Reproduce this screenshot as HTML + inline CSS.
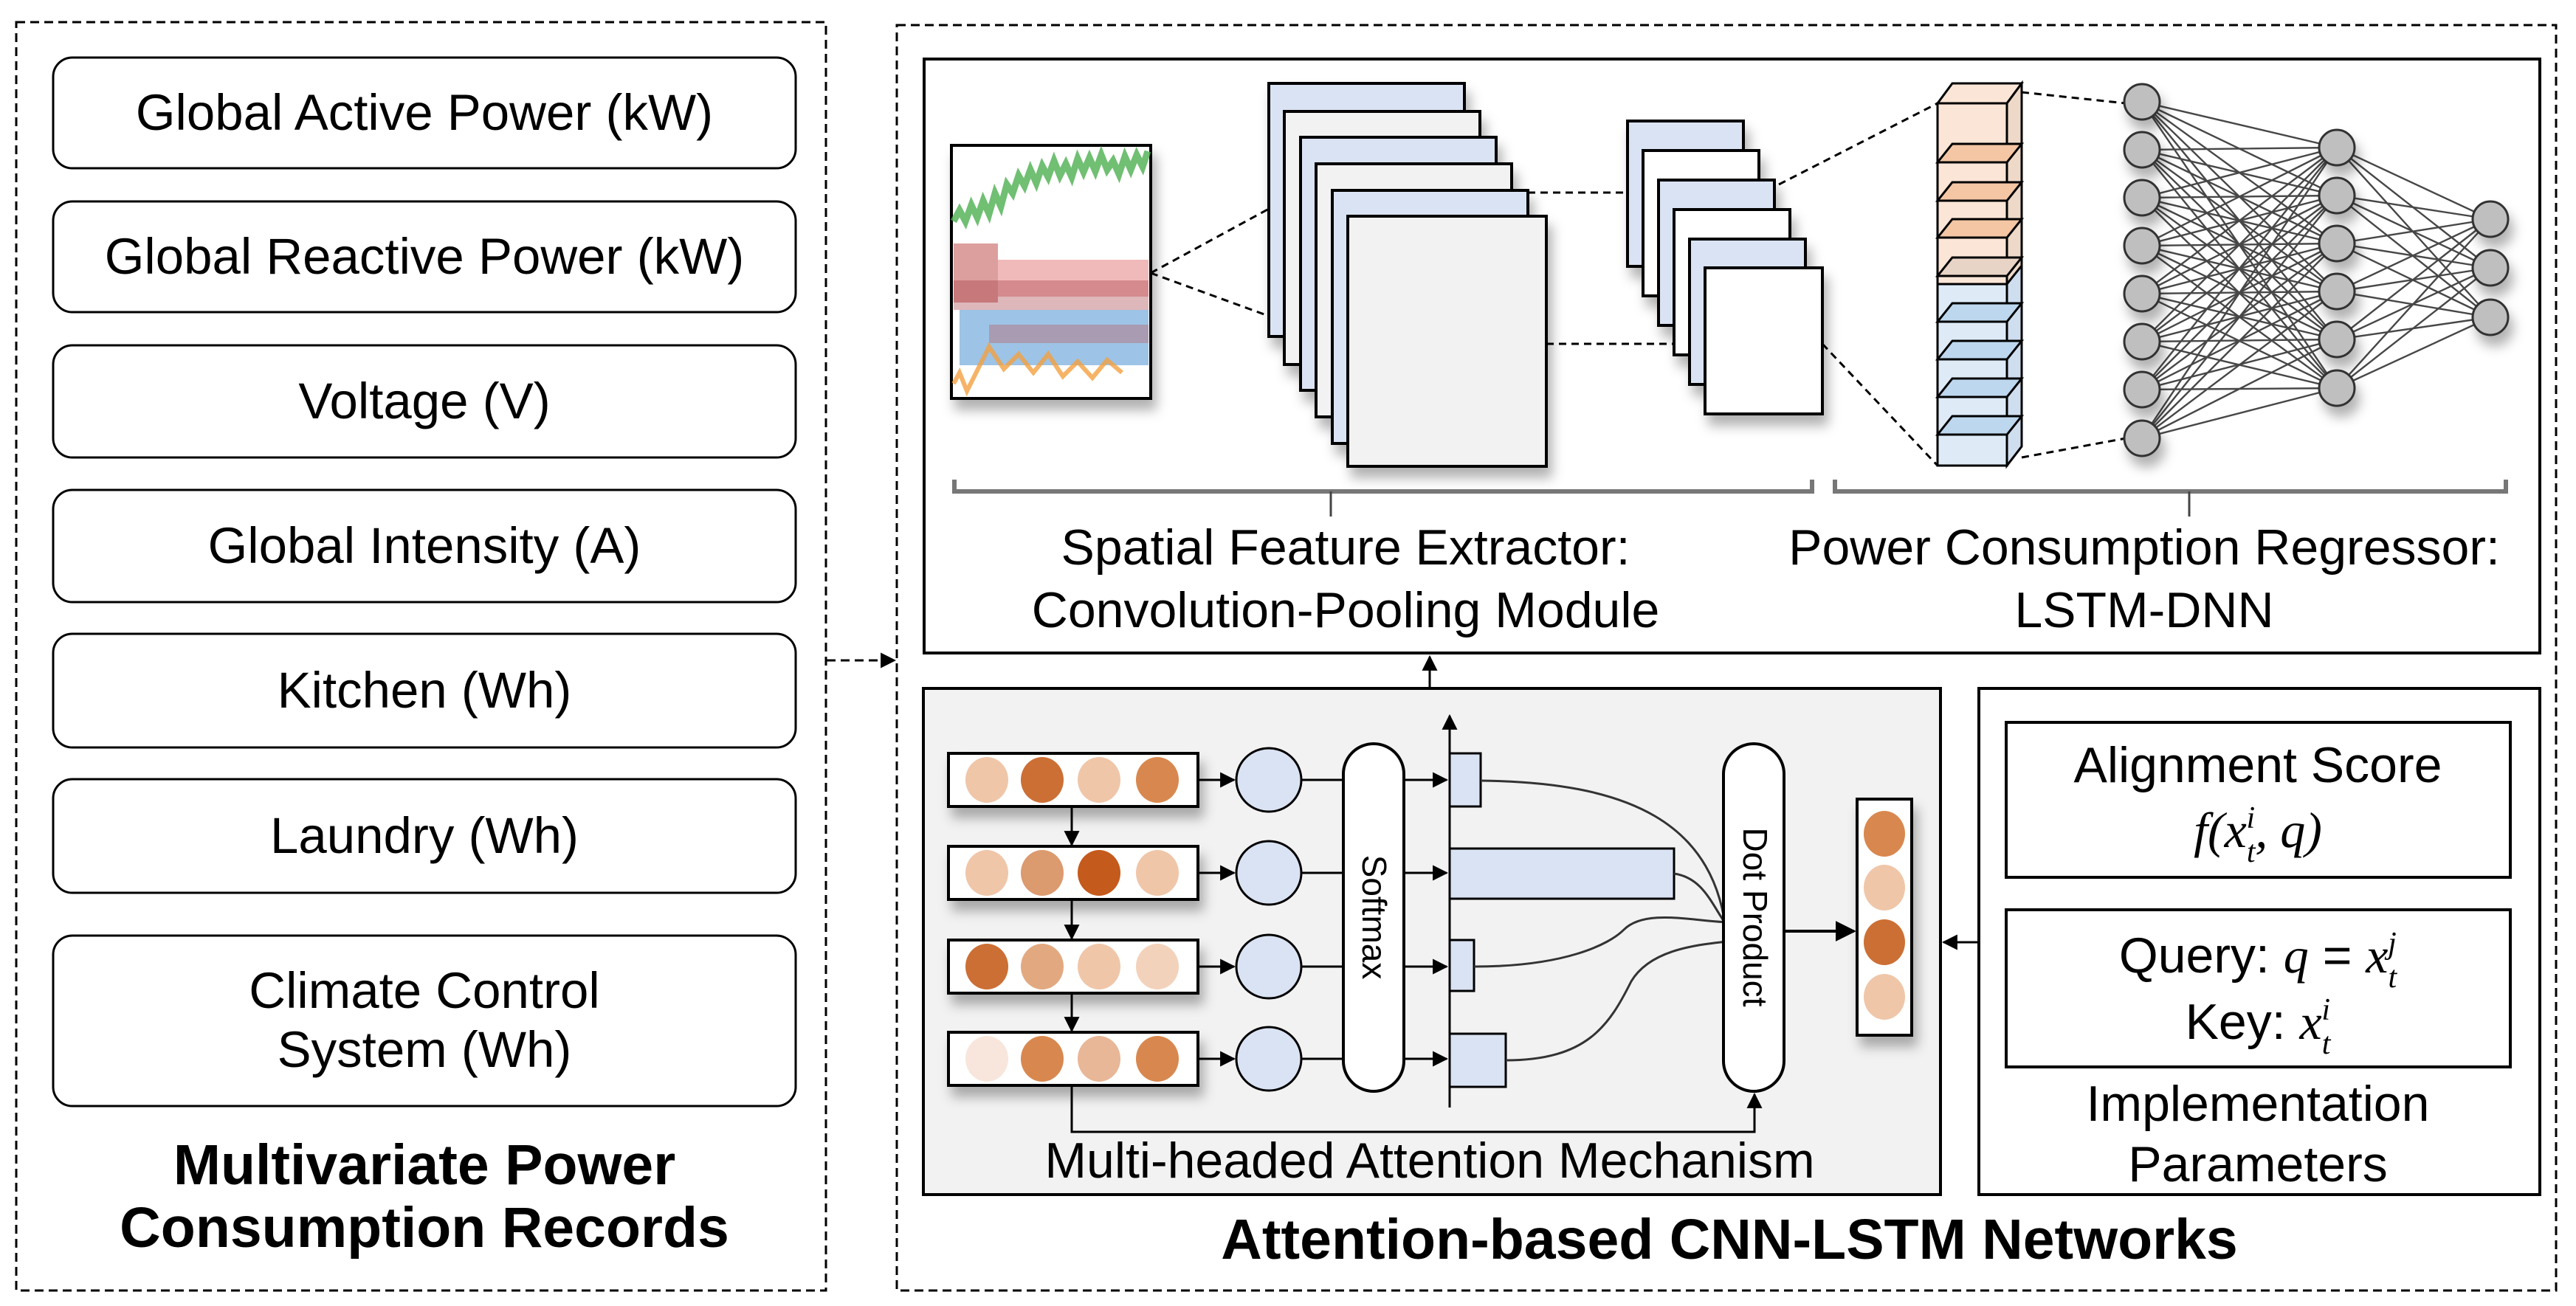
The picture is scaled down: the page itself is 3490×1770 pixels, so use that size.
<!DOCTYPE html>
<html><head><meta charset="utf-8"><style>
html,body{margin:0;padding:0;background:#fff;}
svg{display:block;font-family:"Liberation Sans",Arial,sans-serif;}
</style></head><body>
<svg width="3490" height="1770" viewBox="0 0 3490 1770" xmlns="http://www.w3.org/2000/svg">
<defs>
<marker id="ah" viewBox="0 0 10 10" refX="9" refY="5" markerWidth="7" markerHeight="7" orient="auto-start-reverse"><path d="M0,0 L10,5 L0,10 z" fill="#000"/></marker>
<filter id="sh" x="-20%" y="-20%" width="150%" height="150%"><feDropShadow dx="6" dy="14" stdDeviation="8" flood-color="#000" flood-opacity="0.3"/></filter>
</defs>

<rect x="22" y="30" width="1097" height="1719" fill="none" stroke="#000" stroke-width="3" stroke-dasharray="12,7"/>
<rect x="1215" y="34" width="2248" height="1715" fill="none" stroke="#000" stroke-width="3" stroke-dasharray="12,7"/>

<g fill="#fff" stroke="#000" stroke-width="3">
<rect x="72" y="78" width="1006" height="150" rx="26"/>
<rect x="72" y="273" width="1006" height="150" rx="26"/>
<rect x="72" y="468" width="1006" height="152" rx="26"/>
<rect x="72" y="664" width="1006" height="152" rx="26"/>
<rect x="72" y="859" width="1006" height="154" rx="26"/>
<rect x="72" y="1056" width="1006" height="154" rx="26"/>
<rect x="72" y="1268" width="1006" height="231" rx="26"/>
</g>
<g font-size="69" text-anchor="middle" fill="#000">
<text x="575" y="176">Global Active Power (kW)</text>
<text x="575" y="371">Global Reactive Power (kW)</text>
<text x="575" y="567">Voltage (V)</text>
<text x="575" y="763">Global Intensity (A)</text>
<text x="575" y="959">Kitchen (Wh)</text>
<text x="575" y="1156">Laundry (Wh)</text>
<text x="575" y="1366">Climate Control</text>
<text x="575" y="1446">System (Wh)</text>
</g>
<g font-size="77" font-weight="bold" text-anchor="middle">
<text x="575" y="1605">Multivariate Power</text>
<text x="575" y="1690">Consumption Records</text>
</g>

<line x1="1120" y1="895" x2="1212" y2="895" stroke="#000" stroke-width="3" stroke-dasharray="12,7" marker-end="url(#ah)"/>

<rect x="1252" y="80" width="2189" height="805" fill="#fff" stroke="#000" stroke-width="4"/>

<g filter="url(#sh)"><rect x="1289" y="197" width="270" height="343" fill="#fff" stroke="#000" stroke-width="4"/></g>
<g>
<polyline points="1292,300 1300,285 1308,300 1316,278 1324,295 1332,272 1340,290 1348,262 1356,280 1364,250 1372,262 1380,238 1388,252 1396,230 1404,248 1412,225 1420,240 1428,218 1436,238 1444,222 1452,240 1460,215 1468,233 1476,214 1484,232 1492,210 1500,230 1508,218 1516,236 1524,212 1532,230 1540,210 1548,226 1555,205" fill="none" stroke="#4caf50" stroke-width="9" opacity="0.8"/>
<rect x="1292" y="330" width="60" height="80" fill="#c0504d" opacity="0.55"/>
<rect x="1352" y="352" width="204" height="50" fill="#e06666" opacity="0.45"/>
<rect x="1292" y="380" width="264" height="40" fill="#a0303a" opacity="0.35"/>
<rect x="1300" y="420" width="256" height="75" fill="#5b9bd5" opacity="0.6"/>
<rect x="1340" y="440" width="216" height="25" fill="#c0504d" opacity="0.35"/>
<polyline points="1292,520 1300,505 1310,530 1340,470 1360,500 1380,480 1400,505 1420,480 1440,510 1460,490 1480,512 1500,488 1520,505" fill="none" stroke="#f4a040" stroke-width="6" opacity="0.8"/>
</g>

<g stroke="#000" stroke-width="3" stroke-dasharray="10,7" fill="none">
<line x1="1559" y1="370" x2="1719" y2="283"/>
<line x1="1559" y1="370" x2="1806" y2="460"/>
</g>

<g stroke="#000" stroke-width="4" filter="url(#sh)">
<rect x="1719" y="113" width="265" height="343" fill="#dae3f3"/>
<rect x="1740" y="151" width="265" height="343" fill="#f2f2f2"/>
<rect x="1762" y="186" width="265" height="343" fill="#dae3f3"/>
<rect x="1783" y="222" width="265" height="343" fill="#f2f2f2"/>
<rect x="1805" y="258" width="265" height="343" fill="#dae3f3"/>
<rect x="1826" y="293" width="269" height="339" fill="#f2f2f2"/>
</g>
<g stroke="#000" stroke-width="3" stroke-dasharray="10,7" fill="none">
<line x1="2070" y1="261" x2="2205" y2="261"/>
<line x1="2095" y1="466" x2="2310" y2="466"/>
</g>
<g stroke="#000" stroke-width="4" filter="url(#sh)">
<rect x="2205" y="164" width="157" height="197" fill="#dae3f3"/>
<rect x="2226" y="204" width="157" height="197" fill="#fff"/>
<rect x="2247" y="244" width="157" height="197" fill="#dae3f3"/>
<rect x="2268" y="284" width="157" height="197" fill="#fff"/>
<rect x="2289" y="324" width="157" height="197" fill="#dae3f3"/>
<rect x="2310" y="363" width="159" height="198" fill="#fff"/>
</g>
<g stroke="#000" stroke-width="3" stroke-dasharray="10,7" fill="none">
<line x1="2410" y1="250" x2="2625" y2="140"/>
<line x1="2469" y1="466" x2="2625" y2="631"/>
</g>

<g stroke="#000" stroke-width="3">
<polygon points="2625,140 2645,113 2739,113 2719,140" fill="#fbe5d6"/>
<polygon points="2719,140 2739,113 2739,605 2719,631" fill="#eed9c8"/>
<rect x="2625" y="140" width="94" height="245" fill="#fbe5d6"/>
<rect x="2625" y="385" width="94" height="246" fill="#deebf7"/>
<polygon points="2719,385 2739,360 2739,605 2719,631" fill="#cfdeee"/>
</g>
<g stroke="#000" stroke-width="3">
<polygon points="2625,220 2645,195 2739,195 2719,220" fill="#f4c6a4"/>
<polygon points="2625,272 2645,247 2739,247 2719,272" fill="#f4c6a4"/>
<polygon points="2625,322 2645,297 2739,297 2719,322" fill="#f4c6a4"/>
<polygon points="2625,374 2645,349 2739,349 2719,374" fill="#e8d4c6"/>
<polygon points="2625,436 2645,411 2739,411 2719,436" fill="#bdd7ee"/>
<polygon points="2625,487 2645,462 2739,462 2719,487" fill="#bdd7ee"/>
<polygon points="2625,538 2645,513 2739,513 2719,538" fill="#bdd7ee"/>
<polygon points="2625,589 2645,564 2739,564 2719,589" fill="#bdd7ee"/>
</g>
<g stroke="#000" stroke-width="3" stroke-dasharray="10,7" fill="none">
<line x1="2739" y1="125" x2="2880" y2="140"/>
<line x1="2739" y1="620" x2="2880" y2="594"/>
</g>

<g stroke="#333" stroke-width="2.4" opacity="0.9">
<path d="M2902,138 L3166,200 M2902,138 L3166,265 M2902,138 L3166,330 M2902,138 L3166,395 M2902,138 L3166,460 M2902,138 L3166,526
M2902,203 L3166,200 M2902,203 L3166,265 M2902,203 L3166,330 M2902,203 L3166,395 M2902,203 L3166,460 M2902,203 L3166,526
M2902,268 L3166,200 M2902,268 L3166,265 M2902,268 L3166,330 M2902,268 L3166,395 M2902,268 L3166,460 M2902,268 L3166,526
M2902,333 L3166,200 M2902,333 L3166,265 M2902,333 L3166,330 M2902,333 L3166,395 M2902,333 L3166,460 M2902,333 L3166,526
M2902,398 L3166,200 M2902,398 L3166,265 M2902,398 L3166,330 M2902,398 L3166,395 M2902,398 L3166,460 M2902,398 L3166,526
M2902,463 L3166,200 M2902,463 L3166,265 M2902,463 L3166,330 M2902,463 L3166,395 M2902,463 L3166,460 M2902,463 L3166,526
M2902,528 L3166,200 M2902,528 L3166,265 M2902,528 L3166,330 M2902,528 L3166,395 M2902,528 L3166,460 M2902,528 L3166,526
M2902,594 L3166,200 M2902,594 L3166,265 M2902,594 L3166,330 M2902,594 L3166,395 M2902,594 L3166,460 M2902,594 L3166,526
M3166,200 L3374,297 M3166,200 L3374,363 M3166,200 L3374,430
M3166,265 L3374,297 M3166,265 L3374,363 M3166,265 L3374,430
M3166,330 L3374,297 M3166,330 L3374,363 M3166,330 L3374,430
M3166,395 L3374,297 M3166,395 L3374,363 M3166,395 L3374,430
M3166,460 L3374,297 M3166,460 L3374,363 M3166,460 L3374,430
M3166,526 L3374,297 M3166,526 L3374,363 M3166,526 L3374,430" fill="none"/>
</g>
<g fill="#bfbfbf" stroke="#333" stroke-width="3" filter="url(#sh)">
<circle cx="2902" cy="138" r="24"/><circle cx="2902" cy="203" r="24"/><circle cx="2902" cy="268" r="24"/><circle cx="2902" cy="333" r="24"/>
<circle cx="2902" cy="398" r="24"/><circle cx="2902" cy="463" r="24"/><circle cx="2902" cy="528" r="24"/><circle cx="2902" cy="594" r="24"/>
<circle cx="3166" cy="200" r="24"/><circle cx="3166" cy="265" r="24"/><circle cx="3166" cy="330" r="24"/>
<circle cx="3166" cy="395" r="24"/><circle cx="3166" cy="460" r="24"/><circle cx="3166" cy="526" r="24"/>
<circle cx="3374" cy="297" r="24"/><circle cx="3374" cy="363" r="24"/><circle cx="3374" cy="430" r="24"/>
</g>

<g stroke="#777" stroke-width="6" fill="none">
<path d="M1293,650 L1293,666 L2455,666 L2455,650"/>
<line x1="1803" y1="666" x2="1803" y2="700" stroke-width="3" stroke="#444"/>
<path d="M2486,650 L2486,666 L3395,666 L3395,650"/>
<line x1="2966" y1="666" x2="2966" y2="700" stroke-width="3" stroke="#444"/>
</g>
<g font-size="68" text-anchor="middle">
<text x="1823" y="765">Spatial Feature Extractor:</text>
<text x="1823" y="850">Convolution-Pooling Module</text>
<text x="2905" y="765">Power Consumption Regressor:</text>
<text x="2905" y="850">LSTM-DNN</text>
</g>

<line x1="1937" y1="933" x2="1937" y2="890" stroke="#000" stroke-width="3" marker-end="url(#ah)"/>

<rect x="1251" y="933" width="1378" height="686" fill="#f2f2f2" stroke="#000" stroke-width="4"/>
<rect x="2681" y="933" width="760" height="686" fill="#fff" stroke="#000" stroke-width="4"/>
<rect x="2718" y="979" width="683" height="210" fill="#fff" stroke="#000" stroke-width="4"/>
<rect x="2718" y="1233" width="683" height="213" fill="#fff" stroke="#000" stroke-width="4"/>
<g font-size="68" text-anchor="middle">
<text x="3059" y="1060">Alignment Score</text>
<text x="3059" y="1148" font-family="Liberation Serif,serif" font-style="italic">f(x<tspan font-size="42" dy="20">t</tspan><tspan font-size="42" dx="-12" dy="-46">i</tspan><tspan dy="26">, q)</tspan></text>
<text x="3059" y="1318">Query: <tspan font-family="Liberation Serif,serif" font-style="italic">q</tspan> = <tspan font-family="Liberation Serif,serif" font-style="italic">x<tspan font-size="42" dy="20">t</tspan><tspan font-size="42" dx="-12" dy="-46">j</tspan></tspan></text>
<text x="3059" y="1408">Key: <tspan font-family="Liberation Serif,serif" font-style="italic">x<tspan font-size="42" dy="20">t</tspan><tspan font-size="42" dx="-12" dy="-46">i</tspan></tspan></text>
<text x="3059" y="1519">Implementation</text>
<text x="3059" y="1601">Parameters</text>
</g>
<line x1="2681" y1="1277" x2="2633" y2="1277" stroke="#000" stroke-width="3" marker-end="url(#ah)"/>

<g stroke="#000" stroke-width="4" fill="#fff" filter="url(#sh)">
<rect x="1285" y="1021" width="338" height="72"/>
<rect x="1285" y="1147" width="338" height="72"/>
<rect x="1285" y="1274" width="338" height="72"/>
<rect x="1285" y="1399" width="338" height="72"/>
</g>
<g>
<ellipse cx="1337" cy="1057" rx="29" ry="31" fill="#f0c6a9"/><ellipse cx="1412" cy="1057" rx="29" ry="31" fill="#cc6f35"/><ellipse cx="1489" cy="1057" rx="29" ry="31" fill="#f0c6a9"/><ellipse cx="1568" cy="1057" rx="29" ry="31" fill="#d8884f"/>
<ellipse cx="1337" cy="1183" rx="29" ry="31" fill="#f0c6a9"/><ellipse cx="1412" cy="1183" rx="29" ry="31" fill="#dc9a6f"/><ellipse cx="1489" cy="1183" rx="29" ry="31" fill="#c45a1c"/><ellipse cx="1568" cy="1183" rx="29" ry="31" fill="#f0c6a9"/>
<ellipse cx="1337" cy="1310" rx="29" ry="31" fill="#cc6f35"/><ellipse cx="1412" cy="1310" rx="29" ry="31" fill="#e2a981"/><ellipse cx="1489" cy="1310" rx="29" ry="31" fill="#f0c6a9"/><ellipse cx="1568" cy="1310" rx="29" ry="31" fill="#f3d2bb"/>
<ellipse cx="1337" cy="1435" rx="29" ry="31" fill="#f8e6dc"/><ellipse cx="1412" cy="1435" rx="29" ry="31" fill="#d8884f"/><ellipse cx="1489" cy="1435" rx="29" ry="31" fill="#e8b797"/><ellipse cx="1568" cy="1435" rx="29" ry="31" fill="#d8884f"/>
</g>
<g stroke="#000" stroke-width="3" fill="none" marker-end="url(#ah)">
<line x1="1452" y1="1093" x2="1452" y2="1145"/>
<line x1="1452" y1="1219" x2="1452" y2="1272"/>
<line x1="1452" y1="1346" x2="1452" y2="1397"/>
<line x1="1623" y1="1057" x2="1672" y2="1057"/>
<line x1="1623" y1="1183" x2="1672" y2="1183"/>
<line x1="1623" y1="1310" x2="1672" y2="1310"/>
<line x1="1623" y1="1435" x2="1672" y2="1435"/>
</g>
<g stroke="#000" stroke-width="3" fill="#dae3f3">
<ellipse cx="1719" cy="1057" rx="44" ry="43"/>
<ellipse cx="1719" cy="1183" rx="44" ry="43"/>
<ellipse cx="1719" cy="1310" rx="44" ry="43"/>
<ellipse cx="1719" cy="1435" rx="44" ry="43"/>
</g>
<g stroke="#000" stroke-width="3">
<line x1="1763" y1="1057" x2="1820" y2="1057"/><line x1="1763" y1="1183" x2="1820" y2="1183"/>
<line x1="1763" y1="1310" x2="1820" y2="1310"/><line x1="1763" y1="1435" x2="1820" y2="1435"/>
</g>
<rect x="1820" y="1008" width="82" height="471" rx="41" fill="#fff" stroke="#000" stroke-width="4"/>
<text transform="translate(1846,1243) rotate(90)" font-size="46" text-anchor="middle">Softmax</text>
<g stroke="#000" stroke-width="3" marker-end="url(#ah)">
<line x1="1902" y1="1057" x2="1960" y2="1057"/><line x1="1902" y1="1183" x2="1960" y2="1183"/>
<line x1="1902" y1="1310" x2="1960" y2="1310"/><line x1="1902" y1="1435" x2="1960" y2="1435"/>
<line x1="1964" y1="1501" x2="1964" y2="970"/>
</g>
<g stroke="#000" stroke-width="3" fill="#dae3f3">
<rect x="1964" y="1021" width="42" height="72"/>
<rect x="1964" y="1150" width="304" height="68"/>
<rect x="1964" y="1274" width="33" height="69"/>
<rect x="1964" y="1401" width="76" height="72"/>
</g>
<g stroke="#333" stroke-width="3" fill="none">
<path d="M2006,1058 C2200,1060 2330,1110 2340,1280"/>
<path d="M2268,1184 C2310,1190 2320,1230 2345,1262"/>
<path d="M1997,1310 C2120,1310 2180,1280 2200,1260 C2230,1230 2300,1250 2345,1250"/>
<path d="M2040,1437 C2150,1437 2180,1390 2210,1330 C2240,1280 2320,1280 2345,1275"/>
</g>
<rect x="2335" y="1008" width="82" height="471" rx="41" fill="#fff" stroke="#000" stroke-width="4"/>
<text transform="translate(2362,1243) rotate(90)" font-size="46" text-anchor="middle">Dot Product</text>
<line x1="2417" y1="1262" x2="2512" y2="1262" stroke="#000" stroke-width="4" marker-end="url(#ah)"/>
<g filter="url(#sh)"><rect x="2516" y="1083" width="74" height="320" fill="#fff" stroke="#000" stroke-width="4"/></g>
<ellipse cx="2553" cy="1130" rx="28" ry="31" fill="#d8884f"/>
<ellipse cx="2553" cy="1203" rx="28" ry="31" fill="#f0c6a9"/>
<ellipse cx="2553" cy="1277" rx="28" ry="31" fill="#cc6f35"/>
<ellipse cx="2553" cy="1351" rx="28" ry="31" fill="#f0c6a9"/>
<polyline points="1452,1471 1452,1534 2377,1534 2377,1483" fill="none" stroke="#000" stroke-width="3" marker-end="url(#ah)"/>
<text x="1937" y="1596" font-size="68" text-anchor="middle">Multi-headed Attention Mechanism</text>

<text x="2343" y="1706" font-size="77" font-weight="bold" text-anchor="middle">Attention-based CNN-LSTM Networks</text>
</svg>
</body></html>
